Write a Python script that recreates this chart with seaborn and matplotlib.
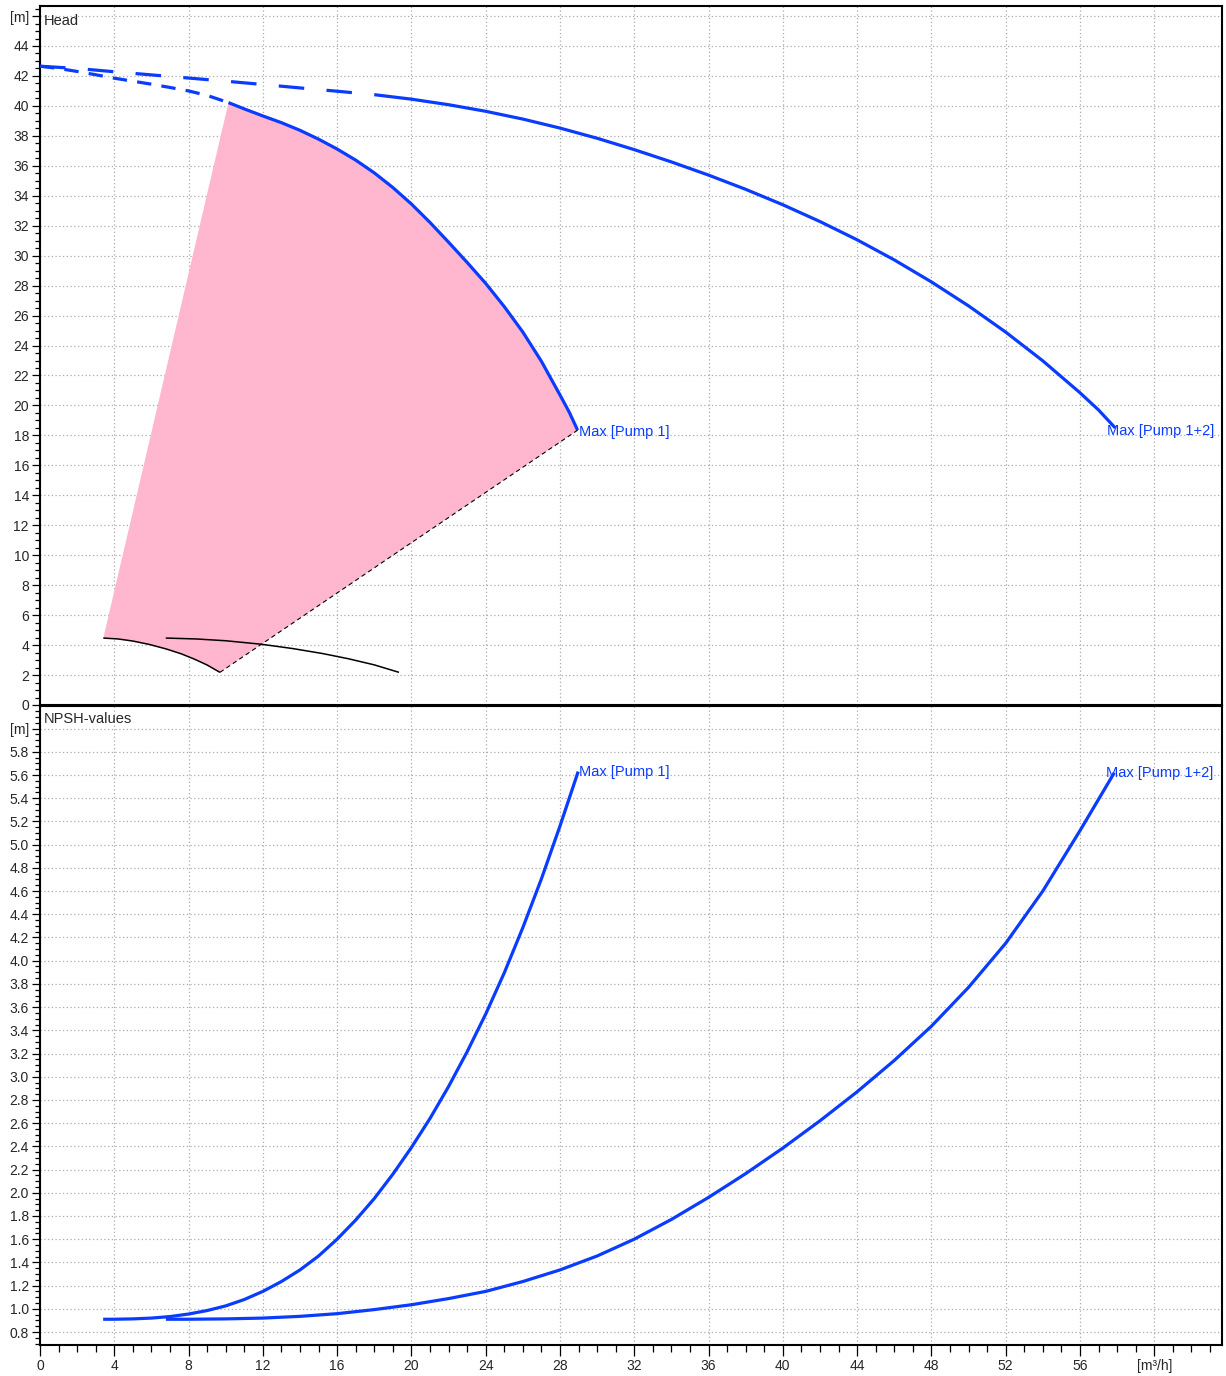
import numpy as np
import pandas as pd
import matplotlib
matplotlib.use("Agg")
import matplotlib.pyplot as plt
import seaborn as sns
from matplotlib.ticker import MultipleLocator, FixedLocator

# ---------------- data ----------------
# Head, Pump 1 (dashed part, then solid part)
p1_dash_q = [0, 1, 2, 3, 4, 5, 6, 7, 8, 9, 10.15]
p1_dash_h = [42.65, 42.5, 42.3, 42.08, 41.85, 41.65, 41.45, 41.23, 41.0, 40.7, 40.22]
p1_q = [10.15, 11, 12, 13, 14, 15, 16, 17, 18, 19, 20, 21, 22, 23, 24, 25,
        26, 27, 28, 28.5, 28.95]
p1_h = [40.22, 39.8, 39.33, 38.88, 38.37, 37.78, 37.12, 36.38, 35.53, 34.55,
        33.45, 32.22, 30.9, 29.55, 28.15, 26.6, 24.9, 22.95, 20.7, 19.55, 18.35]

# Head, Pump 1+2
p12_dash_q = [0, 2, 4, 6, 8, 10, 12, 14, 16, 18]
p12_dash_h = [42.65, 42.5, 42.28, 42.07, 41.86, 41.65, 41.43, 41.2, 40.98, 40.75]
p12_q = [18, 20, 22, 24, 26, 28, 30, 32, 34, 36, 38, 40, 42, 44, 46, 48, 50,
         52, 54, 56, 57, 57.9]
p12_h = [40.75, 40.45, 40.08, 39.64, 39.12, 38.52, 37.84, 37.08, 36.26, 35.38,
         34.43, 33.4, 32.28, 31.06, 29.72, 28.25, 26.65, 24.9, 22.98, 20.85,
         19.7, 18.5]

# Minimum curves (black)
min1_q = [3.41, 4.2, 5.0, 5.9, 6.8, 7.6, 8.3, 9.0, 9.69]
min1_h = [4.47, 4.41, 4.27, 4.04, 3.74, 3.42, 3.07, 2.67, 2.18]
min12_q = [6.77, 8.4, 10.0, 11.9, 13.6, 15.2, 16.6, 18.0, 19.33]
min12_h = [4.47, 4.41, 4.29, 4.06, 3.77, 3.44, 3.09, 2.68, 2.18]

# NPSH
npsh1_q = [3.4, 4, 5, 6, 7, 8, 9, 10, 11, 12, 13, 14, 15, 16, 17, 18, 19, 20,
           21, 22, 23, 24, 25, 26, 27, 28, 28.98]
npsh1_v = [0.91, 0.91, 0.913, 0.92, 0.933, 0.955, 0.985, 1.025, 1.08, 1.15,
           1.235, 1.335, 1.455, 1.6, 1.765, 1.95, 2.16, 2.39, 2.64, 2.915,
           3.215, 3.54, 3.895, 4.285, 4.705, 5.16, 5.63]
npsh12_q = [6.78, 8, 10, 12, 14, 16, 18, 20, 22, 24, 26, 28, 30, 32, 34, 36,
            38, 40, 42, 44, 46, 48, 50, 52, 54, 56, 57.85]
npsh12_v = [0.91, 0.91, 0.913, 0.92, 0.935, 0.958, 0.993, 1.035, 1.088, 1.15,
            1.235, 1.335, 1.455, 1.6, 1.77, 1.96, 2.165, 2.385, 2.62, 2.87,
            3.14, 3.435, 3.77, 4.15, 4.6, 5.12, 5.62]

head_ticks = list(range(0, 47, 2))
head_labels = [str(v) for v in range(0, 45, 2)] + ["[m]"]
npsh_ticks = [round(v, 1) for v in np.arange(0.8, 6.01, 0.2)]
npsh_labels = [f"{v:.1f}" for v in npsh_ticks[:-1]] + ["[m]"]
q_ticks = list(range(0, 61, 4))
q_labels = [str(v) for v in range(0, 57, 4)] + ["[m\u00b3/h]"]

label_p1 = "Max [Pump 1]"
label_p12 = "Max [Pump 1+2]"

# ---------------- style ----------------
sns.set_style("white")
plt.rcParams["font.family"] = ["Liberation Sans", "DejaVu Sans"]

BLUE = "#0A3CFF"
PINK = "#FFB6CE"
GRID = "#ababab"

W, H = 1226, 1376
fig = plt.figure(figsize=(W / 100, H / 100), dpi=100)
ax1 = fig.add_axes([40 / W, (H - 705) / H, 1182 / W, 699 / H])
ax2 = fig.add_axes([40 / W, (H - 1345) / H, 1182 / W, 639 / H])


def line(ax, q, v, color, lw, dashes=None, z=3):
    df = pd.DataFrame({"q": q, "v": v})
    sns.lineplot(data=df, x="q", y="v", ax=ax, color=color, lw=lw,
                 sort=False, estimator=None, zorder=z,
                 solid_capstyle="butt", dash_capstyle="butt",
                 solid_joinstyle="round")
    ln = ax.lines[-1]
    if dashes is not None:
        ln.set_dashes(dashes)
    return ln


# ---------------- top panel: head ----------------
poly_q = [min1_q[0]] + p1_q + list(reversed(min1_q))
poly_h = [min1_h[0]] + p1_h + list(reversed(min1_h))
ax1.fill(poly_q, poly_h, color=PINK, lw=0, zorder=1)

line(ax1, p12_dash_q, p12_dash_h, BLUE, 2.3, dashes=(8, 7))
line(ax1, p12_q, p12_h, BLUE, 2.3)
line(ax1, p1_dash_q, p1_dash_h, BLUE, 2.3, dashes=(4.5, 3.2))
line(ax1, p1_q, p1_h, BLUE, 2.3)
line(ax1, min1_q, min1_h, "black", 1.1)
line(ax1, min12_q, min12_h, "black", 1.1)
line(ax1, [min1_q[-1], p1_q[-1]], [min1_h[-1], p1_h[-1]], "black", 0.8,
     dashes=(4, 3))

ax1.text(p1_q[-1] + 0.05, p1_h[-1] - 0.15, label_p1, color=BLUE, fontsize=10.5,
         ha="left", va="center", zorder=5)
ax1.text(p12_q[-1] - 0.45, p12_h[-1] - 0.2, label_p12, color=BLUE,
         fontsize=10.5, ha="left", va="center", zorder=5)
ax1.text(0.2, 46.67 - 1.0, "Head", fontsize=10.5, ha="left", va="center")

# ---------------- bottom panel: NPSH ----------------
line(ax2, npsh1_q, npsh1_v, BLUE, 2.3)
line(ax2, npsh12_q, npsh12_v, BLUE, 2.3)
ax2.text(npsh1_q[-1] + 0.05, npsh1_v[-1], label_p1, color=BLUE, fontsize=10.5,
         ha="left", va="center", zorder=5)
ax2.text(npsh12_q[-1] - 0.45, npsh12_v[-1], label_p12, color=BLUE,
         fontsize=10.5, ha="left", va="center", zorder=5)
ax2.text(0.2, 6.195 - 0.115, "NPSH-values", fontsize=10.5, ha="left",
         va="center")

# ---------------- axes formatting ----------------
for ax in (ax1, ax2):
    ax.set_xlim(0, 63.65)
    ax.set_xlabel("")
    ax.set_ylabel("")
    ax.xaxis.set_major_locator(FixedLocator(q_ticks))
    ax.xaxis.set_minor_locator(MultipleLocator(1))
    ax.grid(True, which="major", color=GRID, linestyle=(0, (1, 2)), lw=0.9)
    ax.set_axisbelow(True)
    for s in ax.spines.values():
        s.set_color("black")
        s.set_linewidth(1.5)
    ax.tick_params(which="major", direction="out", length=6, width=0.9,
                   color="black", labelsize=10, pad=2)
    ax.tick_params(which="minor", direction="out", length=3.5, width=0.9,
                   color="black")
    ax.tick_params(left=True, bottom=True, which="both")

ax1.set_ylim(0, 46.67)
ax1.yaxis.set_major_locator(FixedLocator(head_ticks))
ax1.set_yticklabels(head_labels)
ax1.yaxis.set_minor_locator(MultipleLocator(0.5))
ax1.tick_params(axis="x", which="both", bottom=False, labelbottom=False)

ax2.set_ylim(0.688, 6.195)
ax2.yaxis.set_major_locator(FixedLocator(npsh_ticks))
ax2.set_yticklabels(npsh_labels)
ax2.yaxis.set_minor_locator(MultipleLocator(0.05))
ax2.set_xticklabels(q_labels)
ax2.tick_params(axis="x", which="major", length=8)
ax2.tick_params(axis="x", which="minor", length=5)

fig.savefig("out.png", dpi=100)
